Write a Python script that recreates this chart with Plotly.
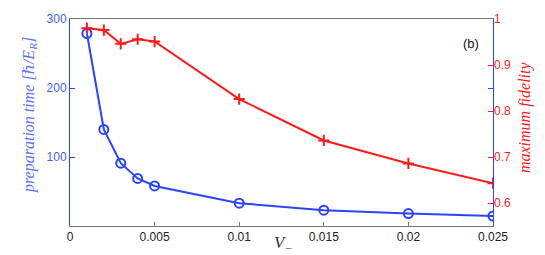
import plotly.graph_objects as go

V_minus = [0.001, 0.002, 0.003, 0.004, 0.005, 0.01, 0.015, 0.02, 0.025]
prep_time = [279, 140, 91, 69, 58, 33, 23, 18, 14.5]
max_fidelity = [0.980, 0.976, 0.946, 0.956, 0.951, 0.826, 0.736, 0.686, 0.643]

x_ticks = [0, 0.005, 0.01, 0.015, 0.02, 0.025]
x_ticklabels = ["0", "0.005", "0.01", "0.015", "0.02", "0.025"]
y1_ticks = [100, 200, 300]
y2_ticks = [0.6, 0.7, 0.8, 0.9, 1.0]
y2_ticklabels = ["0.6", "0.7", "0.8", "0.9", "1"]

BLUE = "#2a44ff"
BLUE_TXT = "#4460ff"
RED = "#ff1a1a"
GRAY = "#777777"
SERIF = "Liberation Serif, DejaVu Serif, serif"

fig = go.Figure()
fig.add_trace(go.Scatter(
    x=V_minus, y=prep_time, mode="lines+markers",
    line=dict(color=BLUE, width=2),
    marker=dict(symbol="circle-open", size=9, color=BLUE, line=dict(width=2, color=BLUE)),
    yaxis="y", showlegend=False))
fig.add_trace(go.Scatter(
    x=V_minus, y=max_fidelity, mode="lines+markers",
    line=dict(color=RED, width=2),
    marker=dict(symbol="cross-thin-open", size=8, color=RED, line=dict(width=2, color=RED)),
    yaxis="y2", showlegend=False))

# page body has an 8px margin, so the figure is drawn 8px smaller and offset
fig.update_layout(
    width=537, height=247,
    margin=dict(l=62, r=52, t=11, b=29, autoexpand=False),
    paper_bgcolor="white", plot_bgcolor="white",
    font=dict(family="Liberation Sans, Arial, sans-serif", size=12, color="#222222"),
    xaxis=dict(
        range=[0, 0.025], tickvals=x_ticks, ticktext=x_ticklabels, automargin=False,
        showgrid=False, zeroline=False, showline=True, linecolor=GRAY, linewidth=1,
        mirror=True, ticks="inside", ticklen=4, tickcolor=GRAY,
        tickfont=dict(size=12, color="#222222"),
    ),
    yaxis=dict(
        range=[0, 300], tickvals=y1_ticks, automargin=False,
        showgrid=False, zeroline=False, showline=True, linecolor=BLUE, linewidth=1,
        mirror="ticks", ticks="inside", ticklen=5, tickcolor=BLUE,
        tickfont=dict(size=12, color=BLUE_TXT),
    ),
    yaxis2=dict(
        range=[0.55, 1.0], tickvals=y2_ticks, ticktext=y2_ticklabels, automargin=False,
        overlaying="y", side="right",
        showgrid=False, zeroline=False, showline=False,
        ticks="inside", ticklen=5, tickcolor=RED,
        tickfont=dict(size=12, color=RED),
    ),
    annotations=[
        dict(text="(b)", x=0.0243, y=265, xref="x", yref="y",
             showarrow=False, xanchor="right", yanchor="middle",
             font=dict(size=13, color="#111111")),
        dict(text="preparation time [ℏ/E<sub>R</sub>]", x=-0.097, y=0.536,
             xref="paper", yref="paper", textangle=-90, showarrow=False,
             xanchor="center", yanchor="middle",
             font=dict(family=SERIF, size=16, color="#5a73ff", style="italic")),
        dict(text="maximum fidelity", x=1.076, y=0.527,
             xref="paper", yref="paper", textangle=-90, showarrow=False,
             xanchor="center", yanchor="middle",
             font=dict(family=SERIF, size=16, color=RED, style="italic")),
        dict(text="V<sub>−</sub>", x=0.504, y=-0.085,
             xref="paper", yref="paper", showarrow=False,
             xanchor="center", yanchor="middle",
             font=dict(family=SERIF, size=17, color="#333333", style="italic")),
    ],
)

fig.write_html("out.html")
